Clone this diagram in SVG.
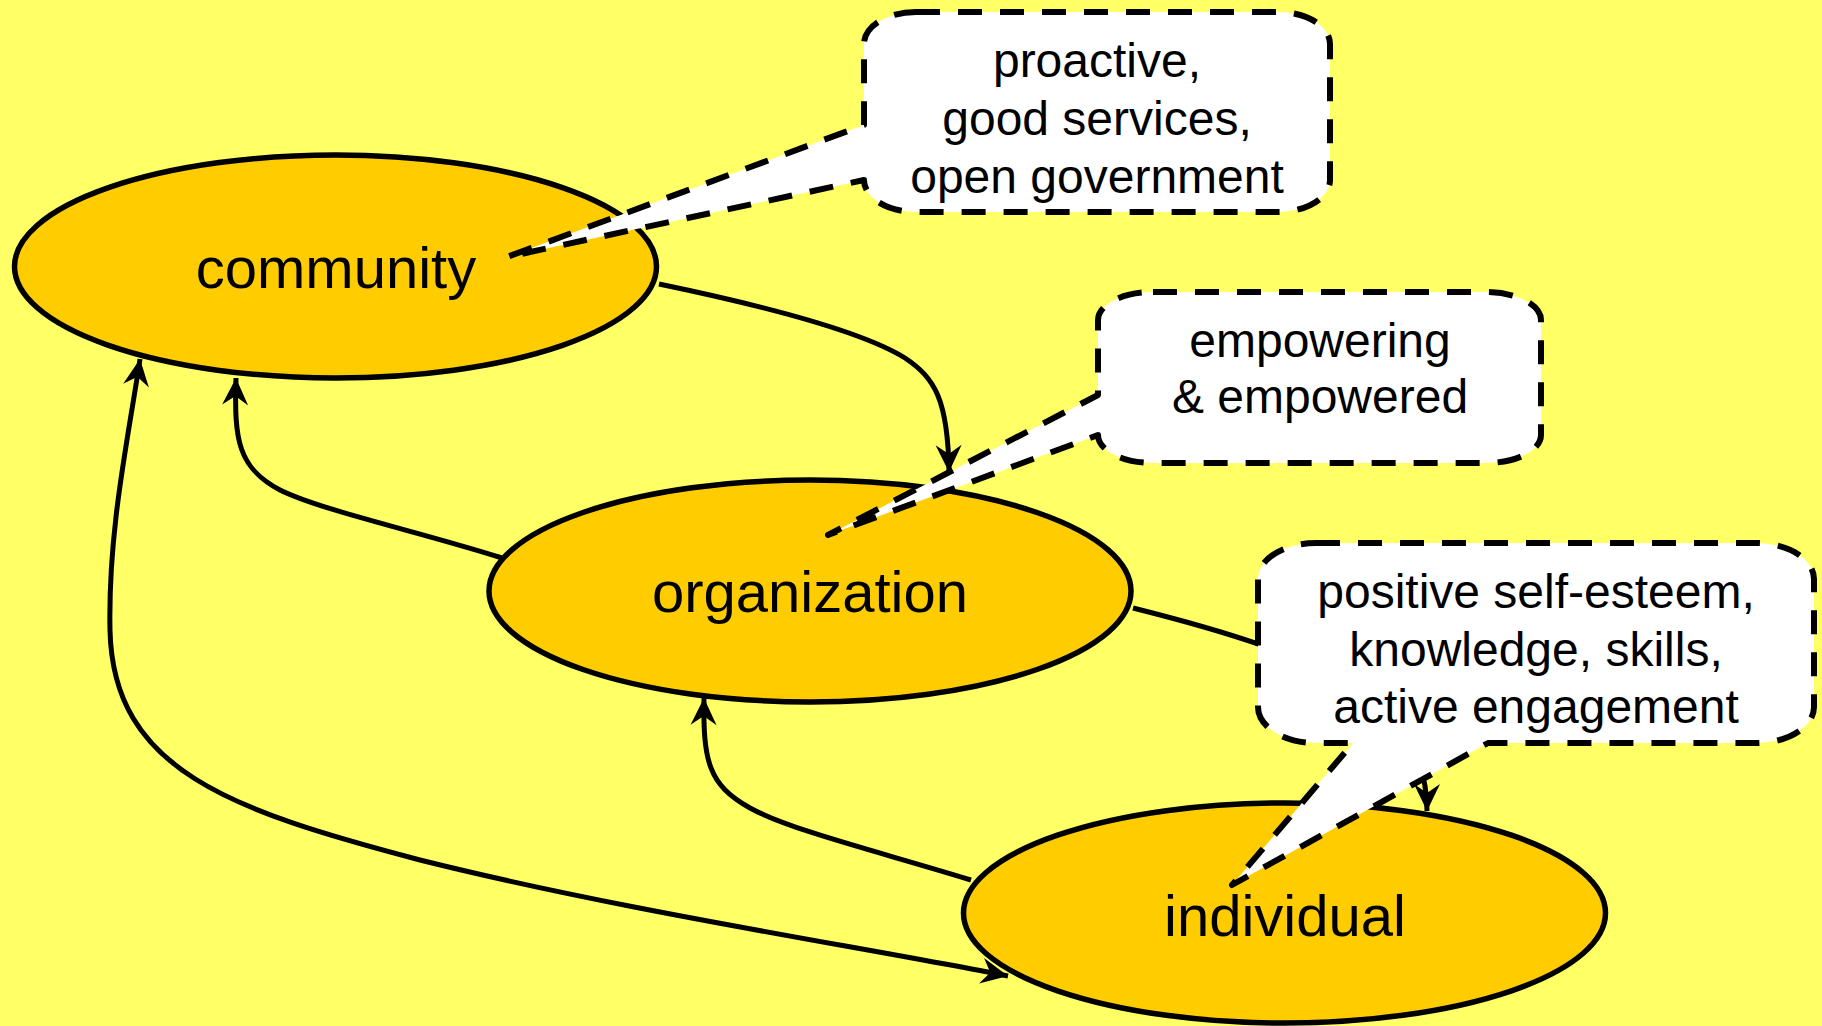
<svg xmlns="http://www.w3.org/2000/svg" width="1822" height="1026" viewBox="0 0 1822 1026">
  <style>
    .node { fill: #FFCC00; stroke: #000; stroke-width: 5.5; }
    .lbl { font-family: "Liberation Sans", Arial, sans-serif; font-size: 58px; fill: #000; text-anchor: middle; }
    .edge { fill: none; stroke: #000; stroke-width: 5; }
    .call { fill: #fff; stroke: #000; stroke-width: 6; stroke-dasharray: 24 18; stroke-linejoin: round; }
    .ctext { font-family: "Liberation Sans", Arial, sans-serif; font-size: 48px; fill: #000; text-anchor: middle; }
  </style>
  <defs>
    <marker id="arr" viewBox="-30 -15 32 30" refX="0" refY="0" markerWidth="32" markerHeight="30" markerUnits="userSpaceOnUse" orient="auto-start-reverse">
      <path d="M0,0 L-27,-13 L-18,0 L-27,13 Z" fill="#000"/>
    </marker>
  </defs>
  <rect x="0" y="0" width="1822" height="1026" fill="#FFFF66"/>

  <g id="community">
    <ellipse class="node" cx="335.5" cy="266.5" rx="321" ry="111.5"/>
    <text class="lbl" x="336" y="288">community</text>
  </g>
  <g id="organization">
    <ellipse class="node" cx="810" cy="591" rx="321" ry="111"/>
    <text class="lbl" x="810" y="612">organization</text>
  </g>
  <g id="individual">
    <ellipse class="node" cx="1284.5" cy="913" rx="321" ry="110"/>
    <text class="lbl" x="1285" y="936">individual</text>
  </g>

  <g id="connectors">
    <path class="edge" d="M 659 284 C 760 305, 860 330, 905 358 C 935 378, 948 400, 949 472" marker-end="url(#arr)"/>
    <path class="edge" d="M 502 558 C 420 532, 320 510, 280 490 C 238 468, 234 440, 236 378" marker-end="url(#arr)"/>
    <path class="edge" d="M 971 880 C 880 852, 790 830, 750 808 C 708 785, 703 760, 704 698" marker-end="url(#arr)"/>
    <path class="edge" d="M 140 359 C 128 440, 108 530, 110 630 C 113 770, 230 810, 420 860 C 620 910, 850 945, 1008 976" marker-start="url(#arr)" marker-end="url(#arr)"/>
    <path class="edge" d="M 1133 608 C 1320 655, 1427 700, 1427 811" marker-end="url(#arr)"/>
  </g>

  <g id="callout-community">
    <path class="call" d="M 916 12 H 1278 A 52 32 0 0 1 1330 44 V 180 A 52 32 0 0 1 1278 212 H 916 A 52 32 0 0 1 864 180 L 507 257 L 864 125 V 44 A 52 32 0 0 1 916 12 Z"/>
    <text class="ctext" x="1097" y="77">proactive,</text>
    <text class="ctext" x="1097" y="135">good services,</text>
    <text class="ctext" x="1097" y="193">open government</text>
  </g>
  <g id="callout-organization">
    <path class="call" d="M 1153 292 H 1486 A 55 28 0 0 1 1541 320 V 435 A 55 28 0 0 1 1486 463 H 1153 A 55 28 0 0 1 1098 435 L 828 535 L 1098 395 V 320 A 55 28 0 0 1 1153 292 Z"/>
    <text class="ctext" x="1320" y="357">empowering</text>
    <text class="ctext" x="1320" y="413">&amp; empowered</text>
  </g>
  <g id="callout-individual">
    <path class="call" d="M 1316 543 H 1756 A 58 36 0 0 1 1814 579 V 707 A 58 36 0 0 1 1756 743 H 1488 L 1232 885 L 1353 743 H 1316 A 58 36 0 0 1 1258 707 V 579 A 58 36 0 0 1 1316 543 Z"/>
    <text class="ctext" x="1536" y="608">positive self-esteem,</text>
    <text class="ctext" x="1536" y="666">knowledge, skills,</text>
    <text class="ctext" x="1536" y="723">active engagement</text>
  </g>
</svg>
